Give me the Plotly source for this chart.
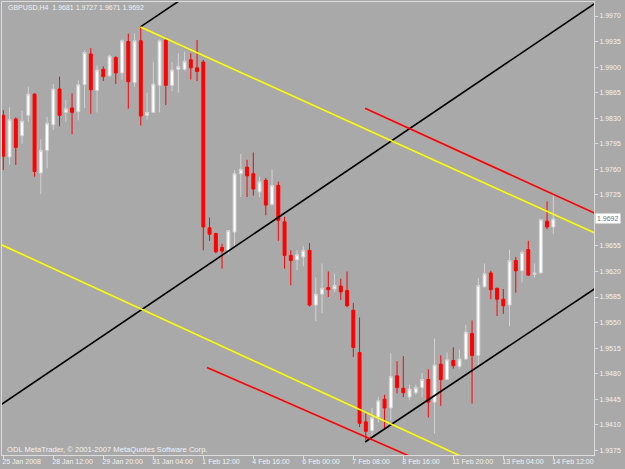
import plotly.graph_objects as go

# ---- data (bar index, OHLC) ----
bar_index = list(range(89))
opens = [1.9834,1.9777,1.9829,1.9806,1.9834,1.9863,1.9755,1.9786,1.9821,1.9870,
         1.9838,1.9844,1.9839,1.9876,1.9918,1.9868,1.9897,1.9888,1.9913,1.9892,
         1.9935,1.9879,1.9936,1.9834,1.9838,1.9875,1.9937,1.9875,1.9897,1.9897,
         1.9910,1.9899,1.9907,1.9680,1.9672,1.9653,1.9649,1.9674,1.9754,1.9763,
         1.9754,1.9729,1.9745,1.9712,1.9738,1.9688,1.9642,1.9636,1.9640,1.9649,
         1.9574,1.9589,1.9598,1.9596,1.9600,1.9594,1.9567,1.9509,1.9414,1.9402,
         1.9420,1.9445,1.9433,1.9477,1.9460,1.9448,1.9454,1.9461,1.9472,1.9441,
         1.9493,1.9472,1.9498,1.9490,1.9500,1.9535,1.9505,1.9599,1.9618,1.9597,
         1.9582,1.9574,1.9635,1.9621,1.9650,1.9616,1.9618,1.9689,1.9681]
highs = [1.9841,1.9845,1.9831,1.9840,1.9873,1.9864,1.9801,1.9832,1.9877,1.9887,
         1.9855,1.9864,1.9882,1.9923,1.9926,1.9902,1.9901,1.9917,1.9915,1.9938,
         1.9946,1.9946,1.9955,1.9865,1.9907,1.9938,1.9939,1.9907,1.9919,1.9921,
         1.9919,1.9937,1.9910,1.9694,1.9673,1.9658,1.9676,1.9759,1.9781,1.9773,
         1.9783,1.9750,1.9748,1.9760,1.9743,1.9695,1.9649,1.9649,1.9655,1.9659,
         1.9612,1.9631,1.9620,1.9617,1.9610,1.9620,1.9577,1.9557,1.9426,1.9433,
         1.9448,1.9451,1.9508,1.9497,1.9504,1.9465,1.9465,1.9481,1.9486,1.9528,
         1.9505,1.9509,1.9516,1.9513,1.9547,1.9553,1.9611,1.9631,1.9621,1.9598,
         1.9596,1.9650,1.9640,1.9649,1.9662,1.9631,1.9692,1.9716,1.9727]
lows = [1.9759,1.9766,1.9766,1.9795,1.9825,1.9750,1.9726,1.9761,1.9814,1.9819,
        1.9825,1.9808,1.9827,1.9844,1.9836,1.9838,1.9881,1.9887,1.9877,1.9883,
        1.9843,1.9873,1.9820,1.9828,1.9837,1.9838,1.9848,1.9867,1.9865,1.9895,
        1.9883,1.9881,1.9649,1.9662,1.9645,1.9624,1.9643,1.9654,1.9722,1.9722,
        1.9724,1.9722,1.9697,1.9710,1.9662,1.9624,1.9601,1.9622,1.9627,1.9572,
        1.9552,1.9563,1.9585,1.9592,1.9581,1.9571,1.9503,1.9407,1.9389,1.9394,
        1.9413,1.9404,1.9416,1.9453,1.9448,1.9444,1.9451,1.9448,1.9420,1.9398,
        1.9436,1.9471,1.9487,1.9487,1.9499,1.9439,1.9491,1.9598,1.9582,1.9559,
        1.9562,1.9545,1.9591,1.9605,1.9614,1.9612,1.9617,1.9678,1.9671]
closes = [1.9778,1.9828,1.9790,1.9826,1.9863,1.9757,1.9786,1.9823,1.9870,1.9834,
          1.9843,1.9838,1.9876,1.9920,1.9869,1.9896,1.9887,1.9915,1.9892,1.9936,
          1.9880,1.9936,1.9833,1.9838,1.9877,1.9936,1.9875,1.9896,1.9901,1.9908,
          1.9899,1.9894,1.9681,1.9671,1.9647,1.9648,1.9676,1.9754,1.9760,1.9751,
          1.9733,1.9743,1.9711,1.9738,1.9690,1.9642,1.9635,1.9643,1.9649,1.9574,
          1.9589,1.9597,1.9595,1.9601,1.9592,1.9573,1.9516,1.9412,1.9401,1.9420,
          1.9443,1.9433,1.9476,1.9461,1.9454,1.9459,1.9461,1.9472,1.9441,1.9492,
          1.9472,1.9499,1.9491,1.9500,1.9537,1.9505,1.9601,1.9617,1.9595,1.9582,
          1.9573,1.9635,1.9621,1.9646,1.9615,1.9618,1.9691,1.9681,1.9692]

x_tick_bars = [0, 8, 16, 24, 32, 40, 48, 56, 64, 72, 80, 88]
x_tick_labels = ["25 Jan 2008", "28 Jan 12:00", "29 Jan 20:00", "31 Jan 04:00",
                 "1 Feb 12:00", "4 Feb 16:00", "6 Feb 00:00", "7 Feb 08:00",
                 "8 Feb 16:00", "11 Feb 20:00", "13 Feb 04:00", "14 Feb 12:00"]
y_ticks = [1.9375, 1.9410, 1.9445, 1.9480, 1.9515, 1.9550, 1.9585, 1.9620, 1.9655,
           1.9690, 1.9725, 1.9760, 1.9795, 1.9830, 1.9865, 1.9900, 1.9935, 1.9970]
y_ticks_shown = [v for v in y_ticks if v != 1.9690]

# trend / channel lines: ([x_start, x_end], [y_start, y_end]) in bar index / price
black_main = ([-1, 96], [1.9434, 1.9995])
black_upper = ([21.95, 96], [1.99550, 2.0383])
black_lower = ([57.87, 96], [1.93864, 1.96041])
yellow_upper = ([21.95, 96], [1.99550, 1.96675])
yellow_lower = ([-1, 96], [1.96594, 1.92772])
red_upper = ([57.87, 96], [1.98436, 1.96945])
red_lower = ([32.59, 96], [1.94886, 1.92508])

BG = "#A9A9A9"
AX = "#DCDCDC"
TXT = "#F2F2F2"
FONT = "Liberation Sans"

fig = go.Figure()
fig.add_trace(go.Candlestick(
    x=bar_index, open=opens, high=highs, low=lows, close=closes,
    increasing=dict(line=dict(color="#D3D3D3", width=1), fillcolor="#FFFFFF"),
    decreasing=dict(line=dict(color="#FF0000", width=1), fillcolor="#FF0000"),
    whiskerwidth=0, showlegend=False, hoverinfo="skip"))

for (xs, ys), col in [(black_main, "#000000"), (black_upper, "#000000"),
                      (black_lower, "#000000"), (yellow_upper, "#FFFF00"),
                      (yellow_lower, "#FFFF00"), (red_upper, "#FF0000"),
                      (red_lower, "#FF0000")]:
    fig.add_trace(go.Scatter(x=xs, y=ys, mode="lines",
                             line=dict(color=col, width=1.6),
                             showlegend=False, hoverinfo="skip"))

fig.update_layout(
    width=625, height=469,
    margin=dict(l=2, r=31, t=2, b=14, pad=0, autoexpand=False),
    paper_bgcolor=BG, plot_bgcolor=BG,
    boxgap=0.33,
    font=dict(family=FONT, size=7, color=TXT),
    xaxis=dict(range=[-0.21, 94.51], showgrid=False, zeroline=False,
               showline=True, linecolor=AX, linewidth=1, mirror=True,
               ticks="outside", ticklen=3, tickcolor=AX,
               tickvals=x_tick_bars, ticktext=x_tick_labels,
               ticklabelposition="outside right", tickangle=0,
               ticklabelshift=-2, automargin=False,
               tickfont=dict(family=FONT, size=7, color=TXT),
               rangeslider=dict(visible=False), fixedrange=True),
    yaxis=dict(range=[1.93686, 1.99892], side="right", showgrid=False,
               zeroline=False, showline=True, linecolor=AX, linewidth=1,
               mirror=True, ticks="outside", ticklen=3, tickcolor=AX,
               tickvals=y_ticks_shown, tickformat=".4f", automargin=False,
               tickfont=dict(family=FONT, size=7, color=TXT), fixedrange=True),
)

fig.add_annotation(text="GBPUSD,H4  1.9681 1.9727 1.9671 1.9692",
                   xref="paper", yref="paper", x=0.0068, y=0.988,
                   xanchor="left", yanchor="middle", showarrow=False,
                   font=dict(family=FONT, size=7, color=TXT))
fig.add_annotation(text="ODL MetaTrader, © 2001-2007 MetaQuotes Software Corp.",
                   xref="paper", yref="paper", x=0.005, y=0.012,
                   xanchor="left", yanchor="middle", showarrow=False,
                   font=dict(family=FONT, size=7.6, color=TXT))
fig.add_annotation(text="1.9692", xref="paper", yref="y", x=1.0025, y=closes[-1],
                   xanchor="left", yanchor="middle", showarrow=False,
                   bgcolor="#FFFFFF", borderpad=1,
                   font=dict(family=FONT, size=7, color="#707070"))

fig.write_html("out.html")
